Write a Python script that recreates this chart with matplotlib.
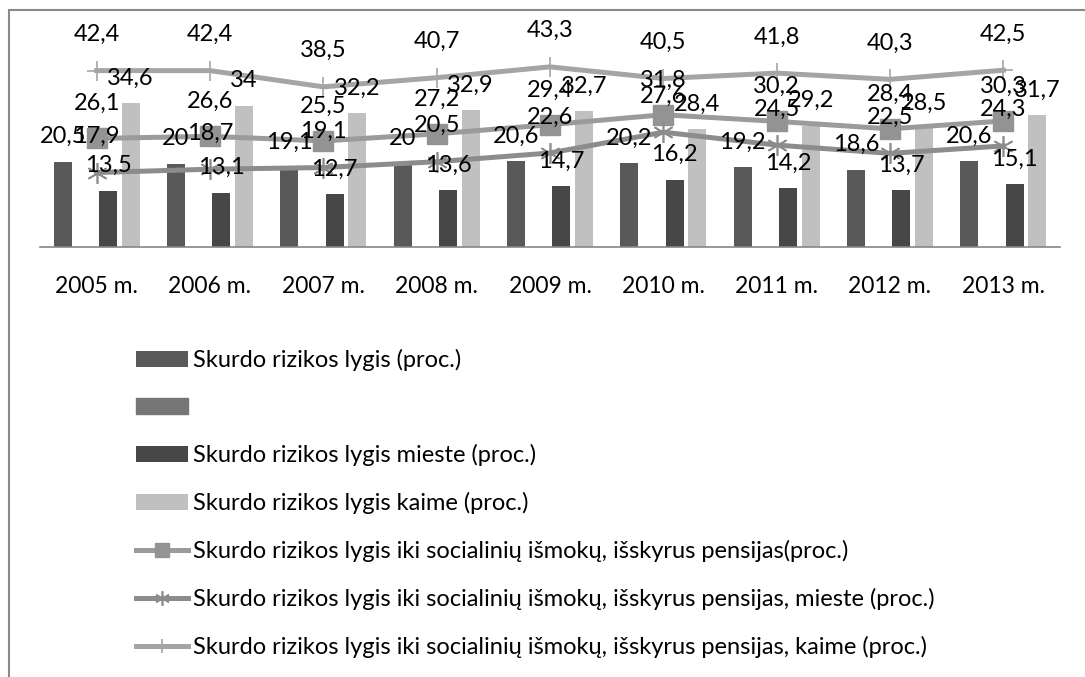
import matplotlib
matplotlib.use("Agg")
import matplotlib.pyplot as plt
from matplotlib.patches import Patch, Rectangle
import numpy as np

plt.rcParams['font.family'] = ['Lato', 'DejaVu Sans']

# years and series (percent)
years = ['2005 m.', '2006 m.', '2007 m.', '2008 m.', '2009 m.',
         '2010 m.', '2011 m.', '2012 m.', '2013 m.']
rizikos = [20.5, 20, 19.1, 20, 20.6, 20.2, 19.2, 18.6, 20.6]
mieste = [13.5, 13.1, 12.7, 13.6, 14.7, 16.2, 14.2, 13.7, 15.1]
kaime = [34.6, 34, 32.2, 32.9, 32.7, 28.4, 29.2, 28.5, 31.7]
iki = [26.1, 26.6, 25.5, 27.2, 29.4, 31.8, 30.2, 28.4, 30.3]
iki_mieste = [17.9, 18.7, 19.1, 20.5, 22.6, 27.6, 24.5, 22.5, 24.3]
iki_kaime = [42.4, 42.4, 38.5, 40.7, 43.3, 40.5, 41.8, 40.3, 42.5]

names = ['Skurdo rizikos lygis (proc.)',
         '',
         'Skurdo rizikos lygis mieste (proc.)',
         'Skurdo rizikos lygis kaime (proc.)',
         'Skurdo rizikos lygis iki socialinių išmokų, išskyrus pensijas(proc.)',
         'Skurdo rizikos lygis iki socialinių išmokų, išskyrus pensijas, mieste (proc.)',
         'Skurdo rizikos lygis iki socialinių išmokų, išskyrus pensijas, kaime (proc.)']

W, H = 1085, 677
fig = plt.figure(figsize=(W / 100, H / 100), dpi=100)
ax = fig.add_axes([40 / W, (H - 247) / H, 1020 / W, 208 / H])

x = np.arange(len(years))
bw = 0.16


def fmt(v):
    return f"{v:g}".replace('.', ',')


def labels(vals, xs, dy):
    for xi, v in zip(xs, vals):
        ax.annotate(fmt(v), (xi, v), xytext=(0, dy), textcoords='offset points',
                    ha='center', va='center', fontsize=17, color='black', zorder=6)


b1 = ax.bar(x - 0.30, rizikos, bw, color='#595959', zorder=2)
b3 = ax.bar(x + 0.10, mieste, bw, color='#474747', zorder=2)
b4 = ax.bar(x + 0.30, kaime, bw, color='#c0c0c0', zorder=2)

l1, = ax.plot(x, iki, color='#9b9b9b', lw=3.6, marker='s', ms=14,
              mfc='#939393', mec='#939393', zorder=3)
l2, = ax.plot(x, iki_mieste, color='#8c8c8c', lw=3.6, marker=(6, 2, 0), ms=15,
              mew=1.2, mec='#8c8c8c', zorder=3)
l3, = ax.plot(x, iki_kaime, color='#a5a5a5', lw=3.6, marker='+', ms=14,
              mew=1.2, mec='#a5a5a5', zorder=3)

labels(rizikos, x - 0.30, 18)
labels(mieste, x + 0.10, 18)
labels(kaime, x + 0.30, 18)
labels(iki, x, 25)
labels(iki_mieste, x, 26)
labels(iki_kaime, x, 26)

ax.set_xlim(-0.5, len(years) - 0.5)
ax.set_ylim(0, 50)
ax.set_xticks(x)
ax.set_xticklabels(years, fontsize=16.5)
ax.tick_params(axis='x', length=0, pad=21)
ax.set_yticks([])
for s in ['top', 'left', 'right']:
    ax.spines[s].set_visible(False)
ax.spines['bottom'].set_color('#868686')
ax.spines['bottom'].set_linewidth(1.2)

handles = [b1, Patch(color='#767676'), b3, b4, l1, l2, l3]
fig.legend(handles, names, loc='upper left', bbox_to_anchor=(136 / W, (H - 349) / H),
           frameon=False, fontsize=17, borderpad=0, borderaxespad=0,
           handlelength=2.2, handletextpad=0.2, labelspacing=1.1,
           numpoints=1, markerscale=0.7)

# outer chart border
fig.patches.append(Rectangle((9 / W, -0.01), 1.0, (H - 10) / H + 0.01, transform=fig.transFigure,
                             fill=False, edgecolor='#8a8a8a', lw=1.5))

fig.savefig('out.png', dpi=100)
